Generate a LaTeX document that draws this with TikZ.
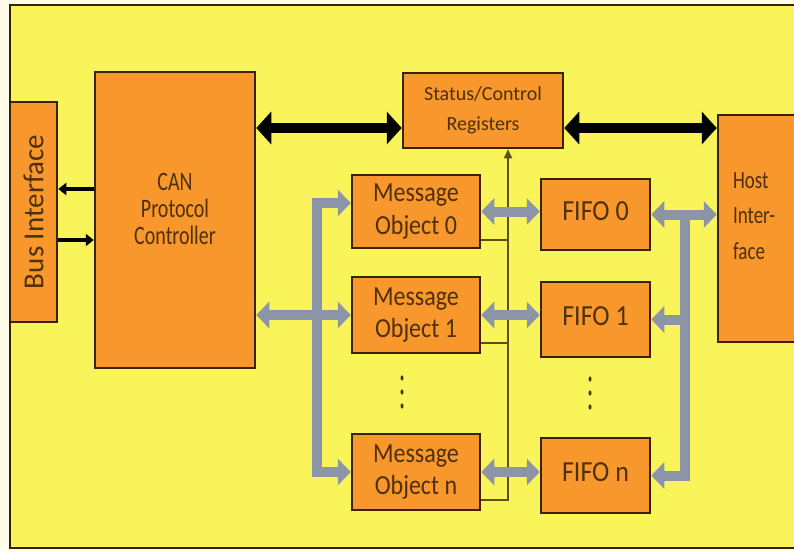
\documentclass[tikz,border=0pt]{standalone}
\usepackage{fontspec}
\setmainfont{Carlito}
\usepackage{graphicx}
\usetikzlibrary{arrows.meta}
\definecolor{bgyellow}{HTML}{F8F45A}
\definecolor{cream}{HTML}{FFFCE8}
\definecolor{boxorange}{HTML}{F7972C}
\definecolor{boxedge}{HTML}{3A2208}
\definecolor{txt}{HTML}{4E300C}
\definecolor{busgray}{HTML}{8C94A8}
\definecolor{ctlline}{HTML}{5A5010}
\newcommand{\tallc}[2]{\scalebox{1}[#1]{\begin{tabular}{@{}c@{}}#2\end{tabular}}}
\newcommand{\talll}[2]{\scalebox{1}[#1]{\begin{tabular}{@{}l@{}}#2\end{tabular}}}
\tikzset{
  blk/.style={draw=boxedge, line width=2.5pt, fill=boxorange, text=txt, align=center, inner sep=0pt},
  blackbus/.style={draw=black, line width=10pt, {Triangle[width=32pt,length=15pt]}-{Triangle[width=32pt,length=15pt]}},
  graybus/.style={draw=busgray, line width=10pt, line join=miter},
  gtip/.tip={Triangle[width=26pt,length=13pt]},
  smallarr/.style={draw=black, line width=3.5pt, -{Triangle[width=12pt,length=8pt]}},
  ctl/.style={draw=ctlline, line width=1.6pt},
  dotmark/.style={fill=txt}
}
\begin{document}
\begin{tikzpicture}[x=1pt,y=-1pt]
\useasboundingbox (0,0) rectangle (794,551);
\clip (0,0) rectangle (794,551);
\fill[cream] (0,0) rectangle (794,551);
\fill[bgyellow] (10,5) rectangle (800,548);
\draw[boxedge, line width=2pt] (800,5) -- (10,5) -- (10,548) -- (800,548);

% blocks
\node[blk, minimum width=47pt, minimum height=220pt] (bus) at (33.5,212)
  {\rotatebox{90}{\fontsize{29}{30}\selectfont Bus Interface}};
\node[blk, minimum width=160pt, minimum height=296pt, font=\fontsize{20}{20.5}\selectfont] (can) at (175,220)
  {\raisebox{1pt}[0pt][0pt]{\tallc{1.33}{CAN\\Protocol\\Controller}}};
\node[blk, minimum width=160pt, minimum height=75pt, font=\fontsize{20}{30}\selectfont] (stat) at (483,110.5)
  {Status/Control\\Registers};
\node[blk, minimum width=90pt, minimum height=227pt, text width=60pt, align=left, font=\fontsize{19}{27}\selectfont] (host) at (763,228.5)
  {\raisebox{6pt}[0pt][0pt]{\talll{1.3}{Host\\Inter-\\face}}};
\node[blk, minimum width=128pt, minimum height=73pt, font=\fontsize{24}{28}\selectfont] (mo0) at (416,211.5)
  {\tallc{1.15}{Message\\Object 0}};
\node[blk, minimum width=128pt, minimum height=76pt, font=\fontsize{24}{28}\selectfont] (mo1) at (416,315)
  {\tallc{1.15}{Message\\Object 1}};
\node[blk, minimum width=128pt, minimum height=76pt, font=\fontsize{24}{28}\selectfont] (mon) at (416,472)
  {\tallc{1.15}{Message\\Object n}};
\node[blk, minimum width=109pt, minimum height=71pt, font=\fontsize{26}{28}\selectfont] (f0) at (595.5,214.5) {\tallc{1.12}{FIFO 0}};
\node[blk, minimum width=109pt, minimum height=75pt, font=\fontsize{26}{28}\selectfont] (f1) at (595.5,319.5) {\tallc{1.12}{FIFO 1}};
\node[blk, minimum width=109pt, minimum height=75pt, font=\fontsize{26}{28}\selectfont] (fn) at (595.5,475.5) {\tallc{1.12}{FIFO n}};

% vertical ellipsis marks
\foreach \yy in {378,392,406} {
  \fill[dotmark] (402,\yy) ellipse [x radius=1.5pt, y radius=2.6pt];
  \fill[dotmark] (590,\yy+1) ellipse [x radius=1.5pt, y radius=2.6pt];
}

% helper coordinates
\coordinate (lbx) at (317,0);
\coordinate (rbx) at (685,0);
\coordinate (tx) at (508,0);
\coordinate (sa) at ([yshift=-17.5pt]stat.west);
\coordinate (sb) at ([yshift=-17.5pt]stat.east);
\coordinate (m0in) at ([yshift=8.5pt]mo0.west);
\coordinate (c0) at ([yshift=9pt]mo0.south east);
\coordinate (c1) at ([yshift=11pt]mo1.south east);
\coordinate (cn) at ([yshift=11pt]mon.south east);
\coordinate (bo) at ([yshift=31pt]can.west);
\coordinate (bi) at ([yshift=-20pt]can.west);

% black buses
\draw[blackbus] (can.east |- sa) -- (sa);
\draw[blackbus] (sb) -- (host.west |- sb);

% bus interface arrows
\draw[smallarr] (bo) -- (bus.east |- bo);
\draw[smallarr] (bus.east |- bi) -- (bi);

% control line
\draw[ctl] (c0) -- (c0 -| tx);
\draw[ctl] (c1) -- (c1 -| tx);
\draw[ctl, -{Triangle[width=8pt,length=9pt]}] (cn) -| (tx |- stat.south);

% gray buses left
\draw[graybus, gtip-gtip] (m0in) -- (m0in -| lbx) -- (mon.west -| lbx) -- (mon.west);
\draw[graybus, gtip-gtip] (can.east |- mo1.west) -- (mo1.west);
% gray between message objects and fifos
\draw[graybus, gtip-gtip] (mo0.east) -- (mo0.east -| f0.west);
\draw[graybus, gtip-gtip] (mo1.east) -- (mo1.east -| f1.west);
\draw[graybus, gtip-gtip] (mon.east) -- (mon.east -| fn.west);
% gray buses right
\draw[graybus, gtip-gtip] (f0.east) -- (f0.east -| host.west);
\draw[graybus, -gtip] (f0.east -| rbx) -- (fn.east -| rbx) -- (fn.east);
\draw[graybus, -gtip] (f1.east -| rbx) -- (f1.east);
\end{tikzpicture}
\end{document}
